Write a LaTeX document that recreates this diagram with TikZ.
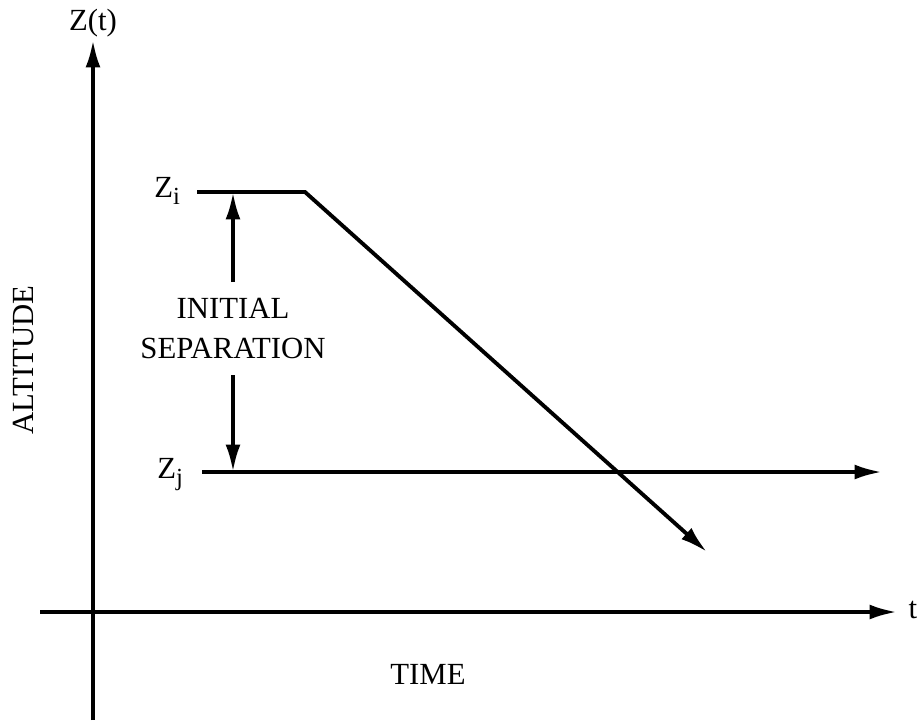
\documentclass[tikz,border=0pt]{standalone}
\usepackage{fontspec}
\setmainfont{Liberation Serif}
\usetikzlibrary{arrows.meta}
\newcommand{\lowsub}[1]{\raisebox{-0.5ex}{\fontsize{14}{14}\selectfont #1}}
\begin{document}
\begin{tikzpicture}[x=0.02cm,y=-0.02cm,>={Latex[length=5.5mm,width=3mm]},
  line/.style={line width=2.2pt},
  lbl/.style={font=\fontsize{17.5}{20}\selectfont,inner sep=0pt}]
  \useasboundingbox (0,0) rectangle (918,720);
  % axes
  \coordinate (ybot) at (93,720);
  \coordinate (ytop) at (93,40);
  \coordinate (xl) at (40,612);
  \coordinate (xr) at (897,612);
  \draw[line,->] (ybot) -- (ytop);
  \draw[line,->] (xl) -- (xr);
  \node[lbl,anchor=base] (zt) at (93,31) {Z(t)};
  \node[lbl,anchor=base] (t) at (913,618) {t};
  \node[lbl,rotate=90] (alt) at (24,360) {ALTITUDE};
  \node[lbl] (time) at (428,674) {TIME};
  % descending and level paths
  \coordinate (zi0) at (197,192);
  \coordinate (zi1) at (305,192);
  \coordinate (ziend) at (707,552);
  \coordinate (zj0) at (202,472);
  \coordinate (zjend) at (882,472);
  \draw[line,->] (zi0) -- (zi1) -- (ziend);
  \draw[line,->] (zj0) -- (zjend);
  \node[lbl,anchor=base west] (zi) at (154,197) {Z\lowsub{i}};
  \node[lbl,anchor=base west] (zj) at (157,478) {Z\lowsub{j}};
  % separation
  \node[lbl] (init) at (233,308) {INITIAL};
  \node[lbl] (sep) at (233,348) {SEPARATION};
  \coordinate (sepup) at (233,282);
  \coordinate (seplo) at (233,375);
  \draw[line,->] (sepup) -- (sepup |- zi0);
  \draw[line,->] (seplo) -- (seplo |- zj0);
\end{tikzpicture}
\end{document}
